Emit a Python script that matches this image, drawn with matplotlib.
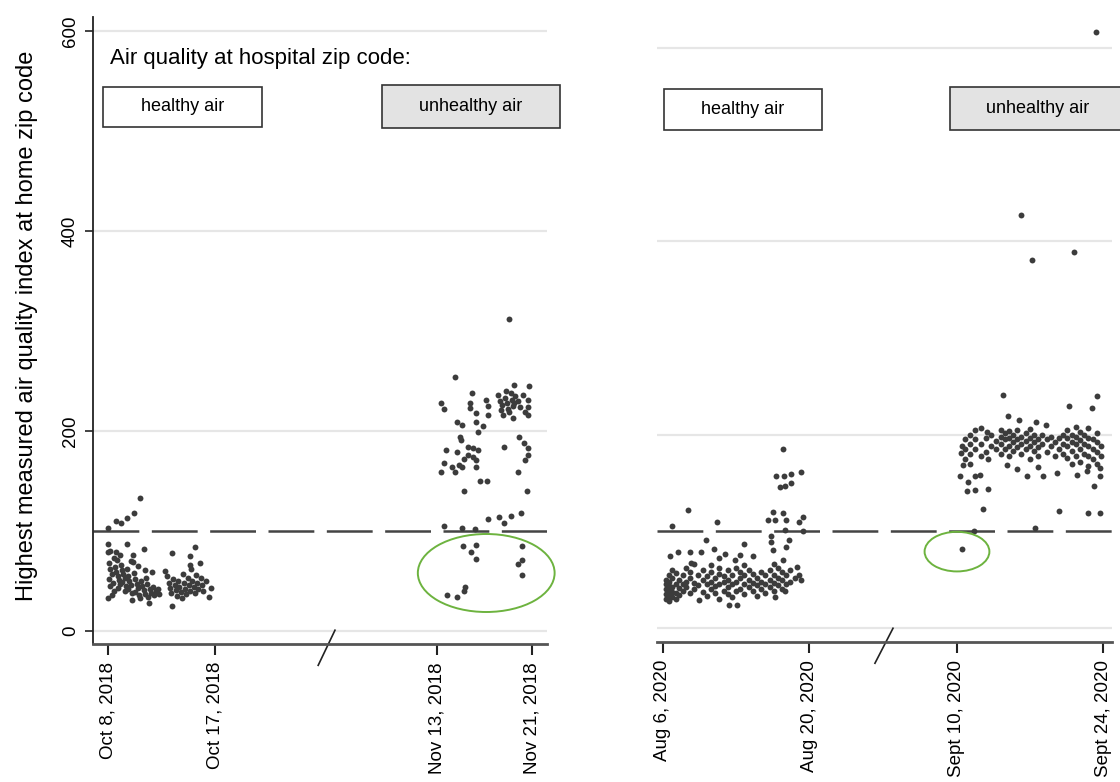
import numpy as np
import matplotlib
matplotlib.use('Agg')
import matplotlib.pyplot as plt
from matplotlib.patches import Ellipse, Rectangle

plt.rcParams['font.family'] = ['Liberation Sans', 'DejaVu Sans']
plt.rcParams['lines.scale_dashes'] = False

# x axis is in days, with the gap between the two date ranges shortened
left_ticks = [0, 9, 27.65, 35.65]
left_labels = ['Oct 8, 2018', 'Oct 17, 2018', 'Nov 13, 2018', 'Nov 21, 2018']
right_ticks = [0, 14, 28.1, 42.1]
right_labels = ['Aug 6, 2020', 'Aug 20, 2020', 'Sept 10, 2020', 'Sept 24, 2020']

# (days after first date of the range, AQI)
oct_pts = [
    (2.73, 133), (2.21, 118), (1.57, 113), (1.11, 108), (0.67, 110), (0.03, 103),
    (0.03, 87), (0.03, 79), (0.7, 79), (1.57, 87), (2.12, 76), (3.0, 82), (5.41, 78),
    (6.93, 75), (7.31, 84), (8.67, 43), (8.47, 34), (5.41, 25), (3.43, 28), (0.03, 33),
    (3.08, 61), (3.73, 59), (2.07, 69), (0.76, 71),
    (0.1, 68), (0.2, 62), (0.3, 57), (0.1, 52), (0.4, 48), (0.2, 45), (0.5, 40), (0.3, 36),
    (0.6, 64), (0.7, 59), (0.8, 55), (0.9, 51), (1.0, 47), (0.8, 43), (1.1, 66), (1.2, 61),
    (1.3, 57), (1.4, 53), (1.2, 49), (1.5, 45), (1.4, 40), (1.6, 62), (1.7, 55), (1.8, 50),
    (1.9, 46), (1.7, 42), (2.0, 38), (2.2, 58), (2.3, 52), (2.4, 47), (2.5, 43), (2.3, 39),
    (2.6, 36), (2.8, 50), (2.9, 45), (3.0, 41), (3.1, 37), (2.7, 33), (3.3, 47), (3.5, 42),
    (3.6, 38), (3.4, 34), (3.8, 44), (4.0, 40), (3.9, 36), (4.2, 42), (4.3, 37), (0.5, 73),
    (1.0, 76), (1.9, 70), (0.2, 80), (2.5, 65), (3.2, 53), (2.0, 31),
    (5.0, 55), (5.1, 48), (5.2, 43), (5.3, 38), (5.5, 52), (5.6, 46), (5.7, 41), (5.8, 35),
    (5.9, 50), (6.0, 44), (6.1, 39), (6.2, 33), (6.3, 57), (6.4, 48), (6.5, 42), (6.6, 37),
    (6.7, 53), (6.8, 46), (6.9, 40), (7.0, 62), (7.1, 50), (7.2, 44), (7.3, 38), (7.4, 56),
    (7.5, 48), (7.6, 42), (7.8, 53), (7.9, 46), (8.0, 40), (8.2, 50), (4.8, 60), (6.9, 66),
    (7.7, 68),
]

nov_pts = [
    (6.06, 312), (1.52, 254), (0.38, 228), (0.64, 222), (2.98, 238), (2.78, 228), (2.78, 223),
    (3.30, 218), (4.10, 231), (4.32, 225), (4.32, 216), (6.50, 246), (7.76, 245), (7.70, 231),
    (7.70, 224), (7.70, 216), (7.44, 219), (6.38, 213), (5.58, 216), (1.70, 209), (2.10, 206),
    (3.30, 209), (3.84, 205), (3.50, 199), (1.98, 194), (2.06, 191), (0.78, 181), (1.70, 179),
    (2.64, 184), (3.04, 183), (3.44, 181), (2.64, 176), (3.04, 174), (3.30, 171), (0.56, 168),
    (2.24, 172), (1.84, 166), (1.30, 164), (0.38, 159), (1.52, 159), (2.10, 164), (3.30, 164),
    (3.62, 150), (4.24, 150), (2.30, 140), (5.66, 184), (6.90, 194), (7.30, 188), (7.70, 183),
    (7.70, 176), (7.38, 171), (6.86, 159), (7.58, 140), (4.32, 112), (5.26, 114), (5.62, 108),
    (6.24, 115), (7.04, 118), (0.64, 105), (2.10, 103), (3.18, 102), (2.18, 85), (3.26, 86),
    (2.90, 79), (3.26, 72), (7.12, 85), (7.18, 71), (6.80, 67), (7.18, 56), (2.38, 44),
    (2.24, 40), (1.70, 34), (0.88, 36),
    (5.1, 236), (5.3, 230), (5.5, 226), (5.7, 233), (5.9, 228), (6.0, 222), (6.2, 238),
    (6.3, 231), (6.4, 225), (6.6, 235), (5.8, 240), (6.1, 219), (5.4, 221), (6.5, 228),
    (6.8, 230), (7.0, 224), (7.2, 236),
]

aug_pts = [
    (11.47, 185), (10.84, 157), (11.56, 157), (12.25, 159), (13.19, 161), (11.16, 146),
    (11.63, 147), (12.25, 150), (2.38, 122), (5.20, 110), (0.91, 106), (10.53, 120),
    (11.47, 119), (10.06, 112), (10.69, 112), (11.78, 112), (13.35, 115), (13.04, 110),
    (11.63, 101), (13.35, 100), (4.11, 91), (10.31, 95), (10.31, 89), (12.10, 91),
    (11.78, 84), (7.71, 87), (0.66, 74), (1.44, 79), (2.60, 79), (3.64, 79), (4.89, 82),
    (5.92, 77), (5.36, 72), (7.40, 75), (8.65, 74), (2.70, 67), (6.93, 70), (10.53, 81),
    (11.47, 70), (12.81, 63), (13.19, 50), (6.30, 24), (7.08, 24), (3.48, 29), (10.69, 32),
    (11.63, 38),
    (0.3, 30), (0.3, 35), (0.3, 40), (0.3, 45), (0.3, 50), (0.6, 28), (0.6, 33), (0.6, 38),
    (0.6, 43), (0.6, 48), (0.6, 55), (0.9, 32), (0.9, 37), (0.9, 42), (0.9, 52), (0.9, 60),
    (1.2, 30), (1.2, 36), (1.2, 46), (1.2, 57), (1.5, 34), (1.5, 41), (1.5, 50), (1.9, 38),
    (1.9, 45), (1.9, 55), (2.2, 42), (2.2, 48), (2.2, 62), (2.6, 36), (2.6, 52), (2.6, 58),
    (3.0, 40), (3.0, 47), (3.0, 66), (3.4, 44), (3.4, 55), (3.8, 37), (3.8, 50), (3.8, 60),
    (4.2, 33), (4.2, 45), (4.2, 54), (4.6, 40), (4.6, 48), (4.6, 58), (4.6, 65), (5.0, 36),
    (5.0, 43), (5.0, 52), (5.4, 30), (5.4, 45), (5.4, 56), (5.4, 62), (5.8, 38), (5.8, 48),
    (5.8, 54), (6.2, 35), (6.2, 42), (6.2, 50), (6.2, 60), (6.6, 32), (6.6, 45), (6.6, 55),
    (7.0, 38), (7.0, 48), (7.0, 62), (7.4, 40), (7.4, 52), (7.4, 58), (7.8, 35), (7.8, 45),
    (7.8, 55), (7.8, 65), (8.2, 42), (8.2, 50), (8.2, 60), (8.6, 38), (8.6, 47), (8.6, 56),
    (9.0, 33), (9.0, 44), (9.0, 52), (9.4, 40), (9.4, 48), (9.4, 58), (9.8, 36), (9.8, 45),
    (9.8, 55), (10.2, 42), (10.2, 50), (10.2, 60), (10.6, 38), (10.6, 47), (10.6, 55),
    (10.6, 66), (11.0, 44), (11.0, 52), (11.0, 62), (11.4, 40), (11.4, 50), (11.4, 58),
    (11.8, 46), (11.8, 55), (12.2, 48), (12.2, 60), (12.6, 52), (13.0, 55),
]

sep_pts = [
    (6.12, 427), (7.19, 381), (11.24, 389), (13.31, 617), (4.44, 241), (10.76, 230),
    (13.41, 240), (12.99, 228), (4.89, 219), (5.96, 215), (7.58, 213), (8.55, 210),
    (2.30, 207), (2.89, 203), (0.52, 188), (0.46, 181), (0.61, 169), (0.29, 157), (1.10, 151),
    (1.75, 157), (2.24, 158), (0.94, 142), (1.75, 143), (3.04, 144), (3.04, 175), (2.56, 123),
    (4.83, 169), (5.80, 164), (6.77, 157), (7.75, 167), (8.23, 157), (9.62, 160), (9.75, 121),
    (11.47, 158), (12.44, 162), (13.09, 147), (13.73, 157), (13.73, 165), (12.60, 119),
    (13.73, 119), (7.51, 103), (1.65, 100), (0.52, 82),
    (0.8, 175), (0.8, 185), (0.8, 195), (1.3, 170), (1.3, 180), (1.3, 190), (1.3, 200),
    (1.8, 185), (1.8, 195), (1.8, 205), (2.3, 178), (2.3, 190), (2.8, 182), (2.8, 196),
    (3.3, 188), (3.3, 200), (3.8, 185), (3.8, 193), (4.2, 180), (4.2, 190), (4.2, 198),
    (4.2, 205), (4.6, 185), (4.6, 195), (4.6, 202), (5.0, 178), (5.0, 188), (5.0, 196),
    (5.0, 204), (5.4, 183), (5.4, 192), (5.4, 200), (5.8, 187), (5.8, 195), (5.8, 205),
    (6.2, 180), (6.2, 190), (6.2, 198), (6.6, 185), (6.6, 193), (6.6, 202), (7.0, 175),
    (7.0, 188), (7.0, 196), (7.0, 206), (7.4, 183), (7.4, 192), (7.4, 200), (7.8, 178),
    (7.8, 187), (7.8, 195), (8.2, 190), (8.2, 200), (8.6, 182), (8.6, 195), (9.0, 188),
    (9.0, 198), (9.4, 178), (9.4, 192), (9.8, 185), (9.8, 196), (10.2, 180), (10.2, 190),
    (10.2, 200), (10.6, 176), (10.6, 188), (10.6, 196), (10.6, 205), (11.0, 170), (11.0, 183),
    (11.0, 192), (11.0, 200), (11.4, 178), (11.4, 190), (11.4, 198), (11.4, 208), (11.8, 172),
    (11.8, 185), (11.8, 194), (11.8, 203), (12.2, 180), (12.2, 190), (12.2, 200), (12.6, 168),
    (12.6, 178), (12.6, 188), (12.6, 197), (12.6, 207), (13.0, 175), (13.0, 185), (13.0, 195),
    (13.4, 170), (13.4, 182), (13.4, 192), (13.4, 202), (13.8, 178), (13.8, 188),
]

# where each date range starts on its panel's compressed axis
oct_start, nov_start = 0, 27.65
aug_start, sep_start = 0, 28.1

DOT = '#3c3c3c'
GRID = '#e6e6e6'
GREEN = '#6db33f'


def scatter_range(ax, pts, start):
    days, aqi = zip(*pts)
    ax.scatter(np.array(days) + start, aqi, s=18, color=DOT, linewidths=0, zorder=3)


def box(ax, x, y, w, h, label, fill):
    ax.add_patch(Rectangle((x, y), w, h, transform=ax.transAxes, facecolor=fill,
                           edgecolor='#333333', lw=1.2, clip_on=False, zorder=5))
    ax.text(x + w / 2, y + h / 2, label, transform=ax.transAxes, ha='center',
            va='center', fontsize=13, zorder=6)


def style_axes(ax, ticks, labels, xlim, ylim):
    ax.set_xlim(*xlim)
    ax.set_ylim(*ylim)
    ax.set_yticks([0, 200, 400, 600])
    ax.yaxis.grid(True, color=GRID, lw=1.6)
    ax.set_axisbelow(True)
    ax.set_xticks(ticks)
    ax.set_xticklabels(labels, rotation=90, fontsize=13.5)
    ax.tick_params(axis='x', length=8, width=1.5, color='#222222', pad=5)
    for s in ['top', 'right']:
        ax.spines[s].set_visible(False)
    ax.spines['bottom'].set_color('#555555')
    ax.spines['bottom'].set_linewidth(2)
    ax.axhline(100, color='#444444', lw=1.8, dashes=(33, 9), zorder=2)


def break_mark(ax, x0, x1):
    ax.plot([x0, x1], [0.022, -0.034], transform=ax.transAxes, color='#222222',
            lw=1.2, clip_on=False)


fig = plt.figure(figsize=(11.2, 7.82), dpi=100)
ax1 = fig.add_axes([0.08304, 0.17647, 0.40536, 0.80179])
ax2 = fig.add_axes([0.58661, 0.17903, 0.40625, 0.79923])

# left panel: 2018
style_axes(ax1, left_ticks, left_labels, (-1.26, 36.91), (-13, 614))
ax1.set_yticklabels(['0', '200', '400', '600'], rotation=90, va='center', fontsize=13.5)
ax1.tick_params(axis='y', length=6, width=1.2, color='#222222', pad=4)
ax1.spines['left'].set_color('#222222')
ax1.spines['left'].set_linewidth(1.3)
scatter_range(ax1, oct_pts, oct_start)
scatter_range(ax1, nov_pts, nov_start)
ax1.add_patch(Ellipse((31.8, 58), 11.5, 78, fill=False, edgecolor=GREEN, lw=1.4,
                      clip_on=False, zorder=4))
break_mark(ax1, 0.533, 0.496)
ax1.text(0.0374, 0.9346, 'Air quality at hospital zip code:', transform=ax1.transAxes,
         ha='left', va='center', fontsize=16)
box(ax1, 0.022, 0.8246, 0.350, 0.0638, 'healthy air', 'white')
box(ax1, 0.6366, 0.823, 0.392, 0.0686, 'unhealthy air', '#e3e3e3')

# right panel: 2020
style_axes(ax2, right_ticks, right_labels, (-0.57, 42.96), (-14.5, 632))
ax2.tick_params(axis='y', left=False, labelleft=False)
ax2.spines['left'].set_visible(False)
scatter_range(ax2, aug_pts, aug_start)
scatter_range(ax2, sep_pts, sep_start)
ax2.add_patch(Ellipse((28.13, 79), 6.2, 41, fill=False, edgecolor=GREEN, lw=1.4,
                      clip_on=False, zorder=4))
break_mark(ax2, 0.5187, 0.479)
box(ax2, 0.0154, 0.8192, 0.347, 0.0656, 'healthy air', 'white')
box(ax2, 0.644, 0.8192, 0.385, 0.0688, 'unhealthy air', '#e3e3e3')

fig.text(27 / 1120, 0.583, 'Highest measured air quality index at home zip code',
         rotation=90, ha='center', va='center', fontsize=17)

fig.savefig('out.png', dpi=100)
